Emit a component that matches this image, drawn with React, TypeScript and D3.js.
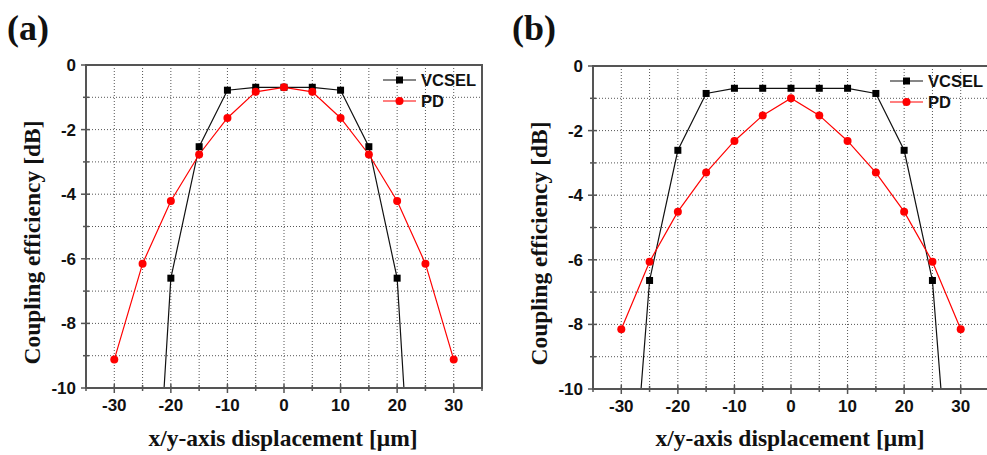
import React from "react";
import * as d3 from "d3";

const xTicksMajor = [-30, -20, -10, 0, 10, 20, 30];
const xTicksMinor = [-35, -25, -15, -5, 5, 15, 25, 35];
const yTicksMajor = [0, -2, -4, -6, -8, -10];
const yTicksMinor = [-1, -3, -5, -7, -9];

const xA_vcsel = [-25, -20, -15, -10, -5, 0, 5, 10, 15, 20, 25];
const yA_vcsel = [-20.8, -6.6, -2.53, -0.78, -0.69, -0.69, -0.69, -0.78, -2.53, -6.6, -20.8];
const xA_pd = [-30, -25, -20, -15, -10, -5, 0, 5, 10, 15, 20, 25, 30];
const yA_pd = [-9.12, -6.15, -4.21, -2.77, -1.64, -0.83, -0.69, -0.83, -1.64, -2.77, -4.21, -6.15, -9.12];

const xB_vcsel = [-30, -25, -20, -15, -10, -5, 0, 5, 10, 15, 20, 25, 30];
const yB_vcsel = [-17.8, -6.64, -2.61, -0.85, -0.69, -0.69, -0.69, -0.69, -0.69, -0.85, -2.61, -6.64, -17.8];
const xB_pd = [-30, -25, -20, -15, -10, -5, 0, 5, 10, 15, 20, 25, 30];
const yB_pd = [-8.15, -6.06, -4.51, -3.3, -2.32, -1.53, -1.0, -1.53, -2.32, -3.3, -4.51, -6.06, -8.15];

const seriesNames = ["VCSEL", "PD"];
const xTitle = "x/y-axis displacement [\u03bcm]";
const yTitle = "Coupling efficiency [dB]";

type P = {
  id: string;
  label: string;
  left: number;
  top: number;
  labelX: number;
  vx: number[];
  vy: number[];
  px: number[];
  py: number[];
};

const sans = "'Liberation Sans', Arial, sans-serif";
const serif = "'Liberation Serif', 'Times New Roman', serif";

function Panel({ id, label, left, top, labelX, vx, vy, px, py }: P) {
  const w = 396;
  const h = 323;
  const x = d3.scaleLinear().domain([-35, 35]).range([left, left + w]);
  const y = d3.scaleLinear().domain([0, -10]).range([top, top + h]);
  const line = d3
    .line<[number, number]>()
    .x((d) => x(d[0]))
    .y((d) => y(d[1]));
  const vPts = vx.map((v, i) => [v, vy[i]] as [number, number]);
  const pPts = px.map((v, i) => [v, py[i]] as [number, number]);
  const gridX = d3.range(-30, 31, 5);
  const gridY = d3.range(-1, -10, -1);
  const axisColor = "#555";
  const legX = left + w - 99;
  return (
    <g>
      <defs>
        <clipPath id={"clip" + id}>
          <rect x={left} y={top} width={w} height={h} />
        </clipPath>
      </defs>
      <text x={labelX} y={40} fontFamily={serif} fontWeight="bold" fontSize={36} fill="#111">
        {label}
      </text>
      {gridX.map((g) => (
        <line key={"gx" + g} x1={x(g)} x2={x(g)} y1={top} y2={top + h} stroke="#555" strokeWidth={1} strokeDasharray="1,2" />
      ))}
      {gridY.map((g) => (
        <line key={"gy" + g} x1={left} x2={left + w} y1={y(g)} y2={y(g)} stroke="#555" strokeWidth={1} strokeDasharray="1,2" />
      ))}
      <g clipPath={`url(#clip${id})`}>
        <path d={line(vPts) || ""} fill="none" stroke="#111" strokeWidth={1.2} />
        <path d={line(pPts) || ""} fill="none" stroke="#f00" strokeWidth={1.2} />
        {vPts.map((d, i) => (
          <rect key={"v" + i} x={x(d[0]) - 3.5} y={y(d[1]) - 3.5} width={7} height={7} fill="#000" />
        ))}
        {pPts.map((d, i) => (
          <circle key={"p" + i} cx={x(d[0])} cy={y(d[1])} r={4} fill="#f00" />
        ))}
      </g>
      <rect x={left} y={top} width={w} height={h} fill="none" stroke={axisColor} strokeWidth={2} />
      {xTicksMajor.map((t) => (
        <g key={"xt" + t}>
          <line x1={x(t)} x2={x(t)} y1={top + h - 4} y2={top + h + 5} stroke={axisColor} strokeWidth={1.5} />
          <text x={x(t)} y={top + h + 23} textAnchor="middle" fontFamily={sans} fontWeight="bold" fontSize={17} fill="#111">
            {t}
          </text>
        </g>
      ))}
      {xTicksMinor.map((t) => (
        <line key={"xm" + t} x1={x(t)} x2={x(t)} y1={top + h - 3} y2={top + h + 3} stroke={axisColor} strokeWidth={1.5} />
      ))}
      {yTicksMajor.map((t) => (
        <g key={"yt" + t}>
          <line x1={left - 5} x2={left + 4} y1={y(t)} y2={y(t)} stroke={axisColor} strokeWidth={1.5} />
          <text x={left - 10} y={y(t) + 6} textAnchor="end" fontFamily={sans} fontWeight="bold" fontSize={17} fill="#111">
            {t}
          </text>
        </g>
      ))}
      {yTicksMinor.map((t) => (
        <line key={"ym" + t} x1={left - 3} x2={left + 3} y1={y(t)} y2={y(t)} stroke={axisColor} strokeWidth={1.5} />
      ))}
      <text x={left + w / 2 - 1} y={446} textAnchor="middle" fontFamily={serif} fontWeight="bold" fontSize={23.5} fill="#111">
        {xTitle}
      </text>
      <text
        transform={`translate(${left - 46},${top + h / 2 + 16}) rotate(-90)`}
        textAnchor="middle"
        fontFamily={serif}
        fontWeight="bold"
        fontSize={23.5}
        fill="#111"
      >
        {yTitle}
      </text>
      {/* legend */}
      <g>
        <line x1={legX} x2={legX + 33} y1={top + 15} y2={top + 15} stroke="#111" strokeWidth={1.2} />
        <rect x={legX + 13} y={top + 11.5} width={7} height={7} fill="#000" />
        <text x={legX + 38} y={top + 21} fontFamily={sans} fontWeight="bold" fontSize={16.5} fill="#111">
          {seriesNames[0]}
        </text>
        <line x1={legX} x2={legX + 33} y1={top + 36} y2={top + 36} stroke="#f00" strokeWidth={1.2} />
        <circle cx={legX + 16.5} cy={top + 36} r={4} fill="#f00" />
        <text x={legX + 38} y={top + 42} fontFamily={sans} fontWeight="bold" fontSize={16.5} fill="#111">
          {seriesNames[1]}
        </text>
      </g>
    </g>
  );
}

export default function App() {
  return (
    <svg width={987} height={455} style={{ position: "absolute", left: 0, top: 0, background: "#fff" }}>
      <rect width={987} height={455} fill="#fff" />
      <Panel id="a" label="(a)" left={86} top={65} labelX={7} vx={xA_vcsel} vy={yA_vcsel} px={xA_pd} py={yA_pd} />
      <Panel id="b" label="(b)" left={593} top={66} labelX={512} vx={xB_vcsel} vy={yB_vcsel} px={xB_pd} py={yB_pd} />
    </svg>
  );
}
